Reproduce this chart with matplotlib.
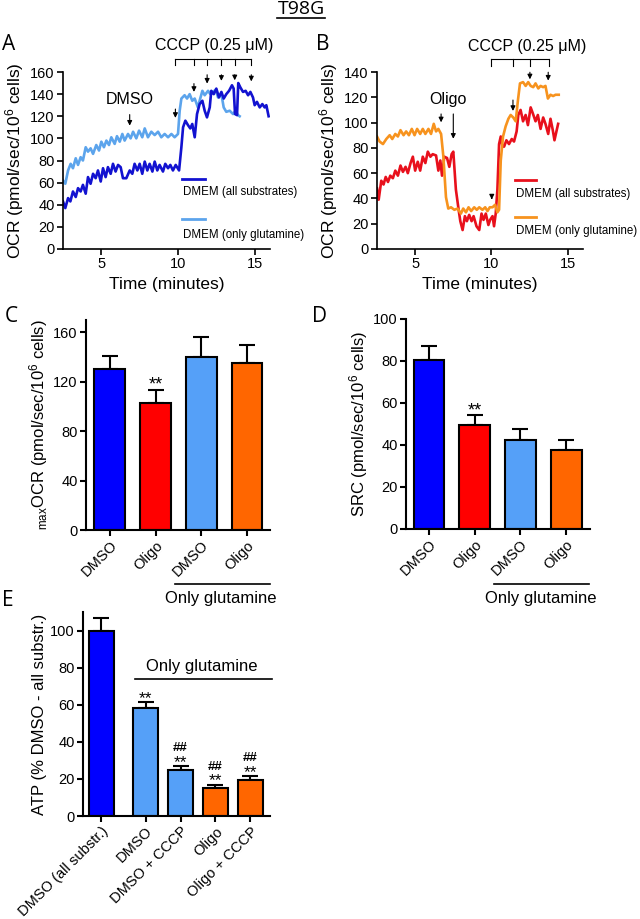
import matplotlib
matplotlib.use("Agg")
import matplotlib.pyplot as plt
import numpy as np

plt.rcParams['font.family'] = ['Liberation Sans', 'DejaVu Sans']
plt.rcParams['mathtext.fontset'] = 'custom'
plt.rcParams['mathtext.rm'] = 'Liberation Sans'
plt.rcParams['mathtext.it'] = 'Liberation Sans:italic'
plt.rcParams['mathtext.bf'] = 'Liberation Sans:bold'

# ---------------- Panel A data ----------------
a_all_t = [2.50, 2.65, 2.83, 2.98, 3.15, 3.33, 3.48, 3.65, 3.80, 3.98, 4.13, 4.30, 4.46, 4.63, 4.78, 4.96,
           5.11, 5.28, 5.43, 5.61, 5.76, 5.93, 6.09, 6.26, 6.41, 6.63, 6.85, 7.02, 7.17, 7.35, 7.50, 7.67,
           7.83, 8.00, 8.15, 8.33, 8.48, 8.65, 8.80, 9.02, 9.17, 9.35, 9.50, 9.67, 9.85, 10.07, 10.22, 10.33,
           10.48, 10.65, 10.80, 10.93, 11.09, 11.24, 11.41, 11.59, 11.74, 11.89, 12.07, 12.17, 12.33, 12.50,
           12.67, 12.83, 12.98, 13.15, 13.33, 13.52, 13.63, 13.72, 13.85, 13.93, 14.07, 14.24, 14.41, 14.57,
           14.72, 14.89, 15.00, 15.15, 15.33, 15.50, 15.65, 15.76, 15.91]
a_all_v = [43, 37, 46, 43, 52, 47, 55, 52, 58, 50, 65, 59, 68, 64, 71, 61,
           73, 65, 74, 68, 77, 70, 76, 74, 64, 64, 71, 68, 77, 71, 77, 68,
           79, 71, 77, 70, 79, 71, 76, 70, 77, 73, 76, 71, 76, 71, 92, 110,
           116, 112, 109, 113, 101, 122, 131, 134, 125, 119, 128, 143, 140, 145,
           137, 142, 136, 140, 143, 148, 145, 122, 121, 150, 146, 142, 143, 139,
           142, 137, 130, 133, 128, 131, 128, 130, 120]
a_gln_t = [2.50, 2.65, 2.83, 3.00, 3.15, 3.33, 3.48, 3.65, 3.80, 3.98, 4.13, 4.30, 4.46, 4.67, 4.85, 5.00,
           5.17, 5.33, 5.50, 5.65, 5.87, 6.02, 6.20, 6.37, 6.52, 6.74, 6.91, 7.07, 7.28, 7.46, 7.67, 7.83,
           8.04, 8.26, 8.48, 8.70, 8.91, 9.13, 9.35, 9.57, 9.78, 10.00, 10.11, 10.22, 10.43, 10.59, 10.76,
           10.93, 11.09, 11.30, 11.41, 11.59, 11.74, 11.96, 12.11, 12.28, 12.46, 12.61, 12.83, 12.98, 13.15,
           13.37, 13.59, 13.76, 13.91, 14.02]
a_gln_v = [62, 59, 71, 77, 73, 82, 76, 83, 80, 92, 88, 91, 86, 94, 89, 97,
           92, 98, 94, 101, 95, 102, 97, 104, 98, 104, 100, 106, 100, 107, 101, 109,
           101, 106, 103, 106, 101, 104, 101, 104, 101, 104, 125, 136, 139, 136, 140,
           134, 136, 128, 134, 143, 139, 143, 140, 142, 144, 137, 140, 128, 124,
           125, 122, 125, 121, 120]

# ---------------- Panel B data ----------------
b_all_t = [2.50, 2.61, 2.78, 2.93, 3.07, 3.22, 3.37, 3.54, 3.70, 3.87, 4.04, 4.20, 4.37, 4.52, 4.70, 4.85,
           5.00, 5.17, 5.33, 5.50, 5.67, 5.83, 6.00, 6.15, 6.37, 6.52, 6.65, 6.76, 6.91, 7.09, 7.24, 7.39,
           7.50, 7.67, 7.85, 7.96, 8.11, 8.26, 8.39, 8.54, 8.70, 8.83, 9.02, 9.20, 9.35, 9.48, 9.63, 9.80,
           9.91, 10.07, 10.17, 10.28, 10.39, 10.50, 10.61, 10.72, 10.83, 10.98, 11.15, 11.33, 11.48, 11.65,
           11.76, 11.91, 12.07, 12.24, 12.39, 12.57, 12.72, 12.89, 13.04, 13.22, 13.39, 13.54, 13.72, 13.87,
           14.02, 14.13, 14.24, 14.37]
b_all_v = [48, 39, 54, 51, 57, 53, 58, 56, 62, 58, 66, 61, 65, 60, 68, 73,
           62, 69, 62, 73, 68, 77, 73, 75, 74, 62, 70, 58, 73, 72, 65, 75,
           77, 47, 31, 22, 15, 26, 22, 27, 22, 26, 18, 15, 28, 23, 28, 19,
           23, 26, 18, 28, 47, 83, 89, 81, 81, 86, 83, 87, 85, 93,
           106, 110, 101, 106, 98, 112, 107, 101, 106, 95, 104, 99, 91, 103,
           94, 86, 92, 99]
b_gln_t = [2.50, 2.67, 2.89, 3.11, 3.33, 3.50, 3.70, 3.87, 4.04, 4.24, 4.41, 4.59, 4.78, 4.96, 5.13, 5.33,
           5.50, 5.67, 5.87, 6.04, 6.22, 6.37, 6.52, 6.70, 6.85, 7.02, 7.17, 7.35, 7.57, 7.78, 8.00, 8.15,
           8.33, 8.50, 8.67, 8.87, 9.04, 9.20, 9.41, 9.59, 9.74, 9.89, 10.07, 10.24, 10.39, 10.50, 10.61,
           10.76, 10.93, 11.11, 11.26, 11.43, 11.59, 11.74, 11.87, 12.07, 12.24, 12.41, 12.57, 12.74, 12.89,
           13.07, 13.22, 13.39, 13.54, 13.70, 13.87, 14.04, 14.20, 14.41]
b_gln_v = [89, 85, 83, 87, 90, 87, 91, 89, 94, 90, 93, 90, 95, 90, 95, 91,
           95, 91, 95, 91, 99, 93, 95, 91, 73, 41, 32, 33, 31, 32, 28, 32,
           29, 33, 30, 33, 31, 33, 31, 33, 30, 33, 33, 35, 29, 31, 70,
           89, 97, 103, 106, 104, 101, 118, 131, 132, 129, 132, 129, 128, 131,
           127, 129, 128, 129, 119, 122, 121, 122, 122]

# arrow times
a_dmso_arrow = 6.85
a_cccp_arrows = [9.83, 11.04, 11.9, 12.83, 13.7, 14.78]
b_oligo_arrows = [6.7, 7.5]
b_cccp_arrows = [10.02, 11.41, 12.52, 13.72]

# ---------------- Bar data ----------------
c_labels = ['DMSO', 'Oligo', 'DMSO', 'Oligo']
c_vals = [130, 103, 140, 135]
c_err = [11, 10, 16, 14.5]
d_vals = [80.3, 49.3, 42.3, 37.5]
d_err = [6.7, 5.0, 5.2, 4.7]
e_labels = ['DMSO (all substr.)', 'DMSO', 'DMSO + CCCP', 'Oligo', 'Oligo + CCCP']
e_vals = [100, 58, 24.7, 15.2, 19.6]
e_err = [7, 3.3, 2.3, 1.6, 2.0]

BLUE = '#0000ff'
RED = '#ff0000'
LBLUE = '#55a0f8'
ORANGE = '#ff6600'
cd_colors = [BLUE, RED, LBLUE, ORANGE]
e_colors = [BLUE, LBLUE, LBLUE, ORANGE, ORANGE]

W, H = 640, 919
fig = plt.figure(figsize=(W / 100, H / 100), dpi=100)


def rect(l, r, t, b):
    return [l / W, 1 - b / H, (r - l) / W, (b - t) / H]


def style(ax, lw=1.3):
    for s in ['top', 'right']:
        ax.spines[s].set_visible(False)
    for s in ['left', 'bottom']:
        ax.spines[s].set_linewidth(lw)
    ax.tick_params(direction='out', length=4, width=lw, labelsize=10.5, pad=2)


ARROW = dict(arrowstyle='-|>', color='black', lw=0.8, mutation_scale=7)

# ---------- Panel A ----------
axA = fig.add_axes(rect(63, 270, 72, 249))
axA.plot(a_gln_t, a_gln_v, color='#5ca4ec', lw=1.9, solid_joinstyle='round')
axA.plot(a_all_t, a_all_v, color='#1212d0', lw=1.9, solid_joinstyle='round')
axA.set_xlim(2.5, 16)
axA.set_ylim(0, 160)
axA.set_yticks(range(0, 161, 20))
axA.set_xticks([5, 10, 15])
style(axA, 1.2)
axA.set_xlabel('Time (minutes)', fontsize=12.5, labelpad=4)
axA.set_ylabel('OCR (pmol/sec/10$^{6}$ cells)', fontsize=12.5, labelpad=3)
axA.text(a_dmso_arrow, 135, 'DMSO', ha='center', va='center', fontsize=11.5)
axA.annotate('', xy=(a_dmso_arrow, 109), xytext=(a_dmso_arrow, 124), arrowprops=ARROW)
a_arrow_y = [(129, 116), (152, 139.5), (160, 147), (160, 149.5), (160, 150), (160, 149)]
for t, (y0, y1) in zip(a_cccp_arrows, a_arrow_y):
    axA.annotate('', xy=(t, y1), xytext=(t, y0), annotation_clip=False, arrowprops=ARROW)
    axA.plot([t, t], [172, 166], color='black', lw=0.8, clip_on=False)
axA.plot([a_cccp_arrows[0], a_cccp_arrows[-1]], [172, 172], color='black', lw=0.8, clip_on=False)
axA.text(12.35, 184, 'CCCP (0.25 \u03bcM)', ha='center', va='center', fontsize=11.5)
axA.plot([0.575, 0.686], [0.394, 0.394], color='#1212d0', lw=2, transform=axA.transAxes)
axA.text(0.578, 0.32, 'DMEM (all substrates)', fontsize=8.3, va='center', transform=axA.transAxes)
axA.plot([0.575, 0.686], [0.169, 0.169], color='#5ca4ec', lw=2, transform=axA.transAxes)
axA.text(0.578, 0.079, 'DMEM (only glutamine)', fontsize=8.3, va='center', transform=axA.transAxes)

# ---------- Panel B ----------
axB = fig.add_axes(rect(377, 583, 72, 249))
axB.plot(b_all_t, b_all_v, color='#e8101c', lw=1.9, solid_joinstyle='round')
axB.plot(b_gln_t, b_gln_v, color='#f7931e', lw=1.9, solid_joinstyle='round')
axB.set_xlim(2.5, 16)
axB.set_ylim(0, 140)
axB.set_yticks(range(0, 141, 20))
axB.set_xticks([5, 10, 15])
style(axB, 1.2)
axB.set_xlabel('Time (minutes)', fontsize=12.5, labelpad=4)
axB.set_ylabel('OCR (pmol/sec/10$^{6}$ cells)', fontsize=12.5, labelpad=3)
axB.text(7.13, 118, 'Oligo', ha='center', va='center', fontsize=11.5)
b_oligo_y = [(109, 98), (109, 85)]
for t, (y0, y1) in zip(b_oligo_arrows, b_oligo_y):
    axB.annotate('', xy=(t, y1), xytext=(t, y0), arrowprops=ARROW)
b_cccp_y = [(43, 37), (120, 107), (142, 132), (142, 131)]
for t, (y0, y1) in zip(b_cccp_arrows, b_cccp_y):
    axB.annotate('', xy=(t, y1), xytext=(t, y0), annotation_clip=False, arrowprops=ARROW)
for t in [10.0, 11.43, 12.52, 13.76]:
    axB.plot([t, t], [150, 145], color='black', lw=0.8, clip_on=False)
axB.plot([10.0, 13.76], [150, 150], color='black', lw=0.8, clip_on=False)
axB.text(12.35, 160.5, 'CCCP (0.25 \u03bcM)', ha='center', va='center', fontsize=11.5)
axB.plot([0.67, 0.772], [0.39, 0.39], color='#e8101c', lw=2, transform=axB.transAxes)
axB.text(0.675, 0.31, 'DMEM (all substrates)', fontsize=8.3, va='center', transform=axB.transAxes)
axB.plot([0.67, 0.772], [0.179, 0.179], color='#f7931e', lw=2, transform=axB.transAxes)
axB.text(0.675, 0.10, 'DMEM (only glutamine)', fontsize=8.3, va='center', transform=axB.transAxes)


def bars(ax, x, vals, errs, colors, width):
    ax.bar(x, vals, width=width, color=colors, edgecolor='black', linewidth=1.5, zorder=2)
    ax.errorbar(x, vals, yerr=[np.zeros(len(vals)), errs], fmt='none', ecolor='black',
                elinewidth=1.5, capsize=6, capthick=1.5, zorder=1)


# ---------- Panel C ----------
axC = fig.add_axes(rect(86, 270, 320, 530))
xc = np.arange(len(c_vals))
bars(axC, xc, c_vals, c_err, cd_colors, 0.67)
axC.set_xlim(-0.52, 3.5)
axC.set_ylim(0, 170)
axC.set_yticks([0, 40, 80, 120, 160])
axC.set_xticks(xc)
style(axC, 1.5)
axC.set_xticklabels(c_labels, rotation=45, ha='right', rotation_mode='anchor', fontsize=10.5)
axC.set_ylabel('$_{\\mathrm{max}}$OCR (pmol/sec/10$^{6}$ cells)', fontsize=12, labelpad=2)
axC.text(xc[1], c_vals[1] + c_err[1] + 1.0, '**', ha='center', va='baseline', fontsize=13)
axC.plot([1.42, 3.5], [-0.257, -0.257], color='black', lw=1.2,
         transform=axC.get_xaxis_transform(), clip_on=False)
axC.text(2.43, -0.325, 'Only glutamine', ha='center', va='center', fontsize=12,
         transform=axC.get_xaxis_transform())

# ---------- Panel D ----------
axD = fig.add_axes(rect(406, 590, 319, 529))
bars(axD, xc, d_vals, d_err, cd_colors, 0.67)
axD.set_xlim(-0.5, 3.52)
axD.set_ylim(0, 100)
axD.set_yticks(range(0, 101, 20))
axD.set_xticks(xc)
style(axD, 1.5)
axD.set_xticklabels(c_labels, rotation=45, ha='right', rotation_mode='anchor', fontsize=10.5)
axD.set_ylabel('SRC (pmol/sec/10$^{6}$ cells)', fontsize=12, labelpad=2)
axD.text(xc[1], d_vals[1] + d_err[1] - 0.3, '**', ha='center', va='baseline', fontsize=13)
axD.plot([1.43, 3.5], [-0.262, -0.262], color='black', lw=1.2,
         transform=axD.get_xaxis_transform(), clip_on=False)
axD.text(2.45, -0.33, 'Only glutamine', ha='center', va='center', fontsize=12,
         transform=axD.get_xaxis_transform())

# ---------- Panel E ----------
axE = fig.add_axes(rect(83, 270, 612, 816))
xe = np.array([0, 1.27, 2.27, 3.27, 4.27])
bars(axE, xe, e_vals, e_err, e_colors, 0.72)
axE.set_xlim(-0.52, 4.83)
axE.set_ylim(0, 110)
axE.set_yticks(range(0, 101, 20))
axE.set_xticks(xe)
style(axE, 1.5)
axE.set_xticklabels(e_labels, rotation=45, ha='right', rotation_mode='anchor', fontsize=10.5)
axE.set_ylabel('ATP (% DMSO - all substr.)', fontsize=12, labelpad=2)
e_star = [None, '**', '**', '**', '**']
e_hash = [None, None, '##', '##', '##']
for i in range(len(e_vals)):
    top = e_vals[i] + e_err[i]
    if e_star[i]:
        axE.text(xe[i], top - 0.4, e_star[i], ha='center', va='baseline', fontsize=12.5)
    if e_hash[i]:
        axE.text(xe[i], top + 8.0, e_hash[i], ha='center', va='baseline', fontsize=9.5,
                 fontweight='bold')
axE.plot([0.97, 4.88], [73.7, 73.7], color='black', lw=1.2, clip_on=False)
axE.text(2.88, 80.5, 'Only glutamine', ha='center', va='center', fontsize=12)

# ---------- Labels ----------
lab = dict(fontsize=15, family=['Open Sans', 'DejaVu Sans'], ha='center', va='center')
fig.text(9 / W, 1 - 44 / H, 'A', **lab)
fig.text(323 / W, 1 - 44 / H, 'B', **lab)
fig.text(11 / W, 1 - 316 / H, 'C', **lab)
fig.text(320 / W, 1 - 316 / H, 'D', **lab)
fig.text(8 / W, 1 - 601 / H, 'E', **lab)
fig.text(301 / W, 1 - 9 / H, 'T98G', fontsize=14, family=['Open Sans', 'DejaVu Sans'],
         ha='center', va='center')
fig.add_artist(plt.Line2D([277 / W, 325 / W], [1 - 18 / H, 1 - 18 / H], color='black', lw=1.2))

fig.savefig('out.png', dpi=100)
